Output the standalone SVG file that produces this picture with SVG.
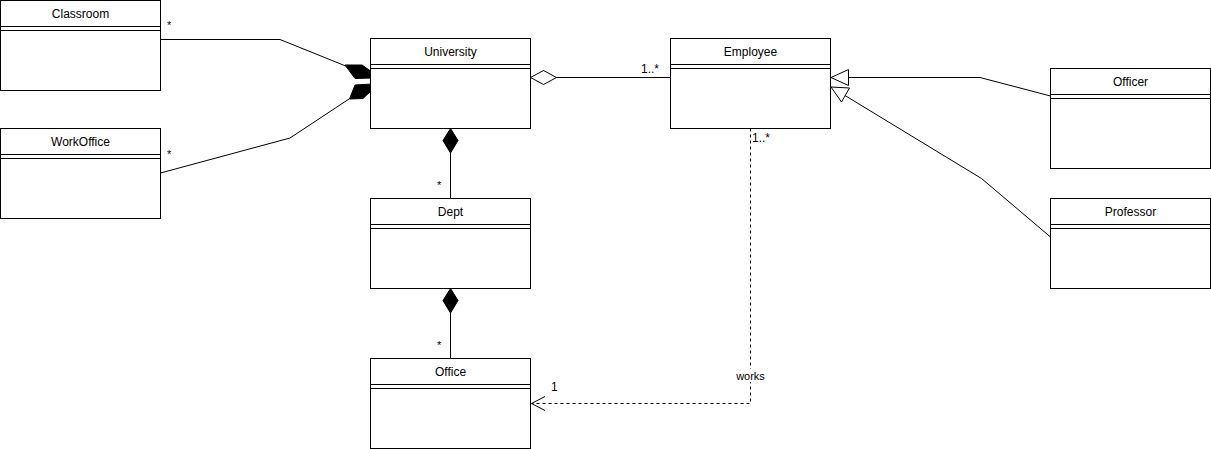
<svg xmlns="http://www.w3.org/2000/svg" width="1211" height="449" viewBox="0 0 1211 449">
<style>
.box{fill:#fff;stroke:#000;stroke-width:1}
.sep{stroke:#000;stroke-width:1;fill:none}
.name{font-family:"Liberation Sans",Arial,sans-serif;font-size:12px;fill:#000;text-anchor:middle}
.lbl{font-family:"Liberation Sans",Arial,sans-serif;font-size:11px;fill:#000}
.edge{fill:none;stroke:#000;stroke-width:1}
.dash{fill:none;stroke:#000;stroke-width:1;stroke-dasharray:3 3}
</style>
<rect width="1211" height="449" fill="#fff"/>
<g id="connectors">
  <polyline class="edge" points="160.5,39.5 280,39.5 347,66.5"/>
  <polygon points="345,65 362,65 372,72 372,78 355,78.5" fill="#000" stroke="#000" stroke-width="1"/>
  <polyline class="edge" points="160.5,173 290,138 349,99"/>
  <polygon points="355,85 372,84 372,90 363,98.5 349.5,99" fill="#000" stroke="#000" stroke-width="1"/>
  <line class="edge" x1="556" y1="77.5" x2="670.5" y2="77.5"/>
  <polygon points="530.5,77.5 543.5,70.5 556.5,77.5 543.5,84.5" fill="#fff" stroke="#000" stroke-width="1"/>
  <line class="edge" x1="450.5" y1="152" x2="450.5" y2="198.5"/>
  <polygon points="450.5,128.5 458,140.5 450.5,153 443,140.5" fill="#000" stroke="#000" stroke-width="1"/>
  <line class="edge" x1="450.5" y1="312" x2="450.5" y2="358.5"/>
  <polygon points="450.5,288.5 458,300.5 450.5,313 443,300.5" fill="#000" stroke="#000" stroke-width="1"/>
  <polyline class="edge" points="1050.5,96 980,77.5 848.5,77.5"/>
  <polygon points="831,77.5 848.5,69.5 848.5,85.5" fill="#fff" stroke="#000" stroke-width="1"/>
  <polyline class="edge" points="1050.5,237 981.5,178.5 845,95.5"/>
  <polygon points="831,87 849.5,88 841.5,102" fill="#fff" stroke="#000" stroke-width="1"/>
  <polyline class="dash" points="750.5,128.5 750.5,403.5 532,403.5"/>
  <polyline class="edge" points="545,396.5 531.5,403.5 545,410.5"/>
  <rect x="734" y="369" width="33" height="13" fill="#fff"/>
  <text class="lbl" x="750.5" y="380" text-anchor="middle">works</text>
  <text class="lbl" x="167" y="29">*</text>
  <text class="lbl" x="167" y="158">*</text>
  <text class="lbl" x="641" y="73" style="font-size:12px">1..*</text>
  <text class="lbl" x="752" y="142" style="font-size:12px">1..*</text>
  <text class="lbl" x="437" y="189">*</text>
  <text class="lbl" x="437" y="349">*</text>
  <text class="lbl" x="551" y="391" style="font-size:12px">1</text>
</g>
<g id="Classroom">
  <rect class="box" x="0.5" y="0.5" width="160" height="90"/>
  <path class="sep" d="M0.5,26.5H160.5M0.5,30.5H160.5"/>
  <text class="name" x="80.5" y="18">Classroom</text>
</g>
<g id="WorkOffice">
  <rect class="box" x="0.5" y="128.5" width="160" height="90"/>
  <path class="sep" d="M0.5,154.5H160.5M0.5,158.5H160.5"/>
  <text class="name" x="80.5" y="146">WorkOffice</text>
</g>
<g id="University">
  <rect class="box" x="370.5" y="38.5" width="160" height="90"/>
  <path class="sep" d="M370.5,64.5H530.5M370.5,68.5H530.5"/>
  <text class="name" x="450.5" y="56">University</text>
</g>
<g id="Employee">
  <rect class="box" x="670.5" y="38.5" width="160" height="90"/>
  <path class="sep" d="M670.5,64.5H830.5M670.5,68.5H830.5"/>
  <text class="name" x="750.5" y="56">Employee</text>
</g>
<g id="Officer">
  <rect class="box" x="1050.5" y="68.5" width="160" height="100"/>
  <path class="sep" d="M1050.5,94.5H1210.5M1050.5,98.5H1210.5"/>
  <text class="name" x="1130.5" y="86">Officer</text>
</g>
<g id="Professor">
  <rect class="box" x="1050.5" y="198.5" width="160" height="90"/>
  <path class="sep" d="M1050.5,224.5H1210.5M1050.5,228.5H1210.5"/>
  <text class="name" x="1130.5" y="216">Professor</text>
</g>
<g id="Dept">
  <rect class="box" x="370.5" y="198.5" width="160" height="90"/>
  <path class="sep" d="M370.5,224.5H530.5M370.5,228.5H530.5"/>
  <text class="name" x="450.5" y="216">Dept</text>
</g>
<g id="Office">
  <rect class="box" x="370.5" y="358.5" width="160" height="90"/>
  <path class="sep" d="M370.5,384.5H530.5M370.5,388.5H530.5"/>
  <text class="name" x="450.5" y="376">Office</text>
</g>
</svg>
